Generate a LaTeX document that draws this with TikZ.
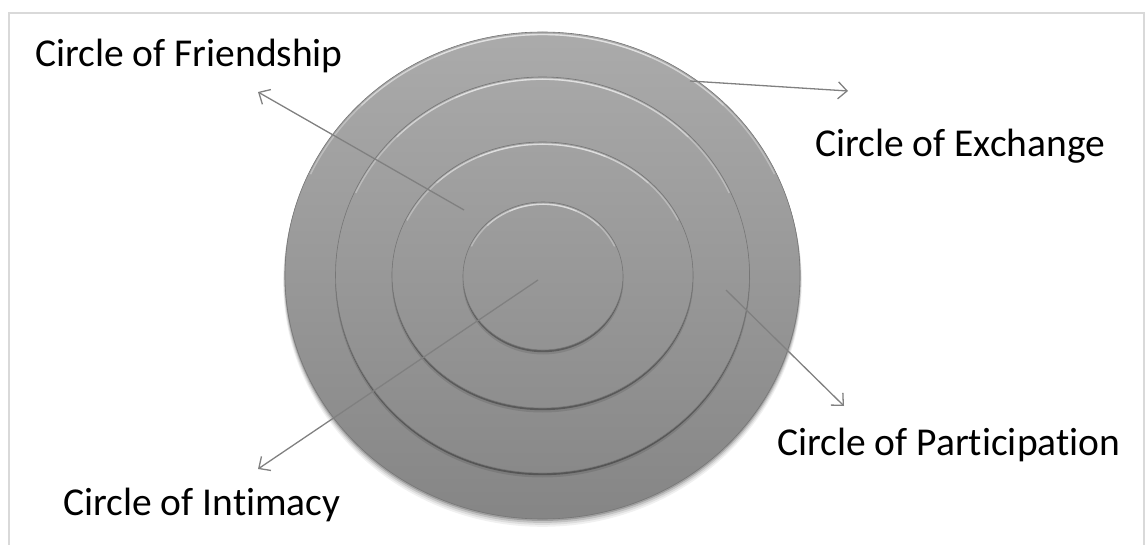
\documentclass[tikz,border=0pt]{standalone}
\usepackage{fontspec}
\setmainfont{Carlito}[Ligatures=NoCommon]
\usetikzlibrary{arrows.meta}
\definecolor{ringtop}{HTML}{ABABAB}
\definecolor{ringbot}{HTML}{858585}
\definecolor{rimgray}{HTML}{767676}
\definecolor{arrowgray}{HTML}{808080}
\definecolor{framegray}{HTML}{D9D9D9}
\begin{document}
\begin{tikzpicture}[x=1pt,y=-1pt,
  lbl/.style={anchor=base west, inner sep=0pt, font=\fontsize{39.5}{47}\selectfont},
  pointer/.style={draw=arrowgray, line width=1.3pt,
    -{Straight Barb[length=9pt,width=17pt,line width=1.3pt]}},
  hl/.style={draw=white, draw opacity=0.3, line width=1.4pt},
  rim/.style={draw=rimgray, line width=0.6pt},
]
\useasboundingbox (0,0) rectangle (1146,545);
% frame
\draw[framegray, line width=1.2pt] (9,546) -- (9,13) -- (1144,13) -- (1144,546);

% ---- outer disc: drop shadow
\foreach \d/\o in {6/0.06,4.5/0.08,3/0.12,1.5/0.18}{
  \fill[black, opacity=\o] (542.5,275.5+\d) ellipse [x radius=257.5pt+\d pt*0.3, y radius=243.5pt+\d pt*0.3];
}
\begin{scope}
  \clip (542.5,275.5) ellipse [x radius=257.5pt, y radius=243.5pt];
  \shade[top color=ringtop, bottom color=ringbot] (280,28) rectangle (805,524);
\end{scope}
\draw[rim] (542.5,275.5) ellipse [x radius=257.5pt, y radius=243.5pt];

% ---- raised inner discs
\foreach \cx/\cy/\rx/\ry in {542.5/275/207/198, 542.5/275/150.5/133, 543/276/80/74}{
  \fill[black, opacity=0.10] (\cx,\cy+4) ellipse [x radius=\rx pt+0.5pt, y radius=\ry pt+0.5pt];
  \fill[black, opacity=0.30] (\cx,\cy+2.2) ellipse [x radius=\rx pt, y radius=\ry pt];
  \begin{scope}
    \clip (\cx,\cy) ellipse [x radius=\rx pt, y radius=\ry pt];
    \shade[top color=ringtop, bottom color=ringbot] (280,28) rectangle (805,524);
  \end{scope}
  \draw[rim] (\cx,\cy) ellipse [x radius=\rx pt, y radius=\ry pt];
}

% ---- top highlights (outer disc and inner discs)
\foreach \cx/\cy/\rx/\ry in {542.5/276.5/256/242, 542.5/276.2/206/197, 542.5/276.2/149.5/132, 543/277.2/79/73}{
  \foreach \a in {25,45,65}{
    \draw[hl] ({\cx+\rx*cos(\a)},{\cy-\ry*sin(\a)}) arc [start angle=\a, end angle=180-\a, x radius=\rx pt, y radius=\ry pt];
  }
}

% ---- labels
\node[lbl] (friend) at (35,67) {Circle of Friendship};
\node[lbl] (exch) at (815,157) {Circle of Exchange};
\node[lbl] (partic) at (777,455) {Circle of Participation};
\node[lbl] (intim) at (63,515) {Circle of Intimacy};

% ---- connector ends
\coordinate (fs) at (464,210);
\coordinate (fe) at (258,92);
\coordinate (es) at (690,81);
\coordinate (ee) at (848,91);
\coordinate (ps) at (726,290);
\coordinate (pe) at (844,406);
\coordinate (is) at (538,280);
\coordinate (ie) at (258,469);

\draw[pointer] (fs) -- (fe);
\draw[pointer] (es) -- (ee);
\draw[pointer] (ps) -- (pe);
\draw[pointer] (is) -- (ie);
\end{tikzpicture}
\end{document}
